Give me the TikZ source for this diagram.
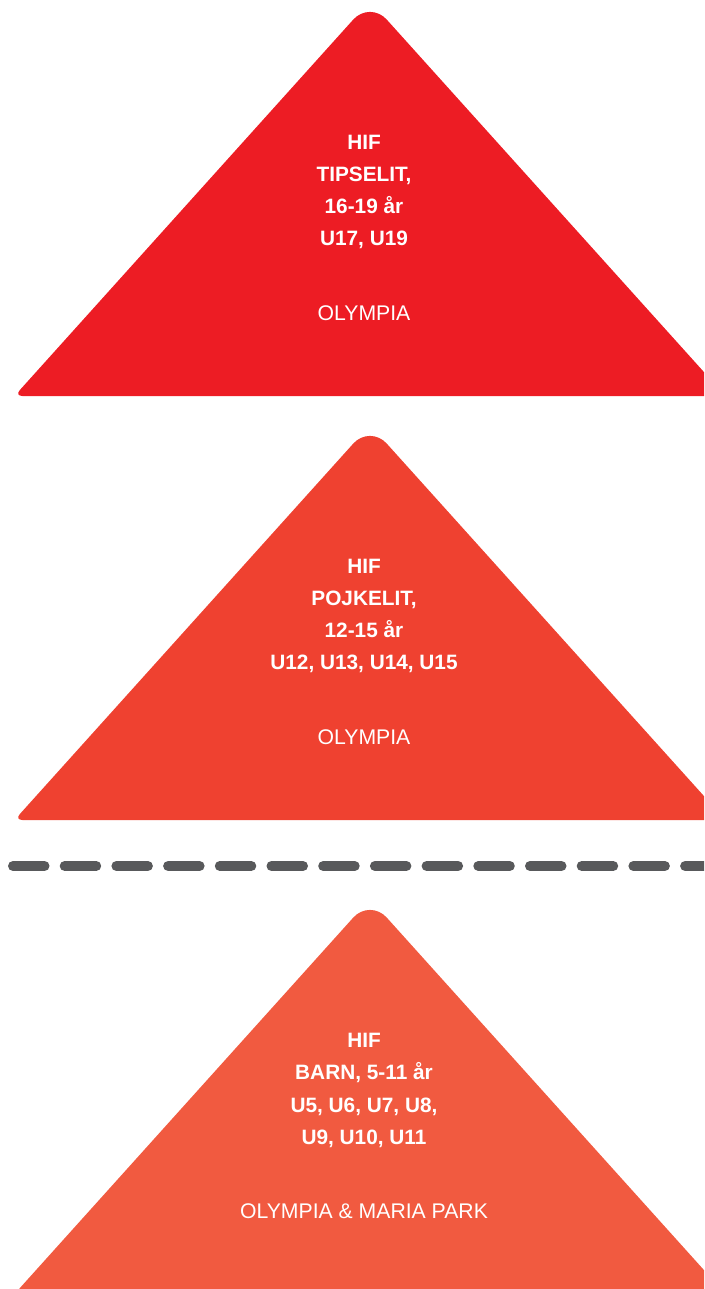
\documentclass[tikz,border=0pt]{standalone}
\usepackage{fontspec}
\setmainfont{Liberation Sans}
\definecolor{redA}{HTML}{ED1C24}
\definecolor{redB}{HTML}{EF4130}
\definecolor{redC}{HTML}{F15A40}
\definecolor{dashgray}{HTML}{58595B}
\newcommand\mytripath{(19.85,390.05) -- (353.27,19.58) .. controls (362.47,9.36) and (377.53,9.36) .. (386.73,19.58) -- (720.15,390.05) .. controls (723.09,393.32) and (721.9,396) .. (717.5,396) -- (22.5,396) .. controls (18.1,396) and (16.91,393.32) .. (19.85,390.05) -- cycle}
\tikzset{
  boldline/.style={text=white, inner sep=0pt, text height=15pt, text depth=0pt,
    font=\fontsize{20.8}{24}\selectfont\bfseries},
  placeline/.style={text=white, inner sep=0pt, text height=15pt, text depth=0pt,
    font=\fontsize{21.2}{24}\selectfont},
  divider/.style={draw=dashgray, line width=10pt, line cap=round, dash pattern=on 31.5pt off 20.2pt}
}
\begin{document}
\begin{tikzpicture}[x=1pt,y=-1pt]
\useasboundingbox (0,0) rectangle (704,1289);
\clip (0,0) rectangle (704,1289);
% triangle 1
\begin{scope}
  \fill[redA] \mytripath;
  \node[boldline] (t1a) at (364,142) {HIF};
  \node[boldline] (t1b) at (364,174) {TIPSELIT,};
  \node[boldline] (t1c) at (364,206) {16-19 år};
  \node[boldline] (t1d) at (364,238) {U17, U19};
  \node[placeline] (t1e) at (364,313) {OLYMPIA};
\end{scope}
% triangle 2
\begin{scope}[shift={(0,424)}]
  \fill[redB] \mytripath;
  \node[boldline] (t2a) at (364,142) {HIF};
  \node[boldline] (t2b) at (364,174) {POJKELIT,};
  \node[boldline] (t2c) at (364,206) {12-15 år};
  \node[boldline] (t2d) at (364,238) {U12, U13, U14, U15};
  \node[placeline] (t2e) at (364,313) {OLYMPIA};
\end{scope}
% divider
\coordinate (dl) at (13,866);
\coordinate (dr) at (720,866);
\draw[divider] (dl) -- (dr);
% triangle 3
\begin{scope}[shift={(0,898)}]
  \fill[redC] \mytripath;
  \node[boldline] (t3a) at (364,142) {HIF};
  \node[boldline] (t3b) at (364,174) {BARN, 5-11 år};
  \node[boldline] (t3c) at (364,207) {U5, U6, U7, U8,};
  \node[boldline] (t3d) at (364,239) {U9, U10, U11};
  \node[placeline] (t3e) at (364,313) {OLYMPIA \& MARIA PARK};
\end{scope}
\end{tikzpicture}
\end{document}
